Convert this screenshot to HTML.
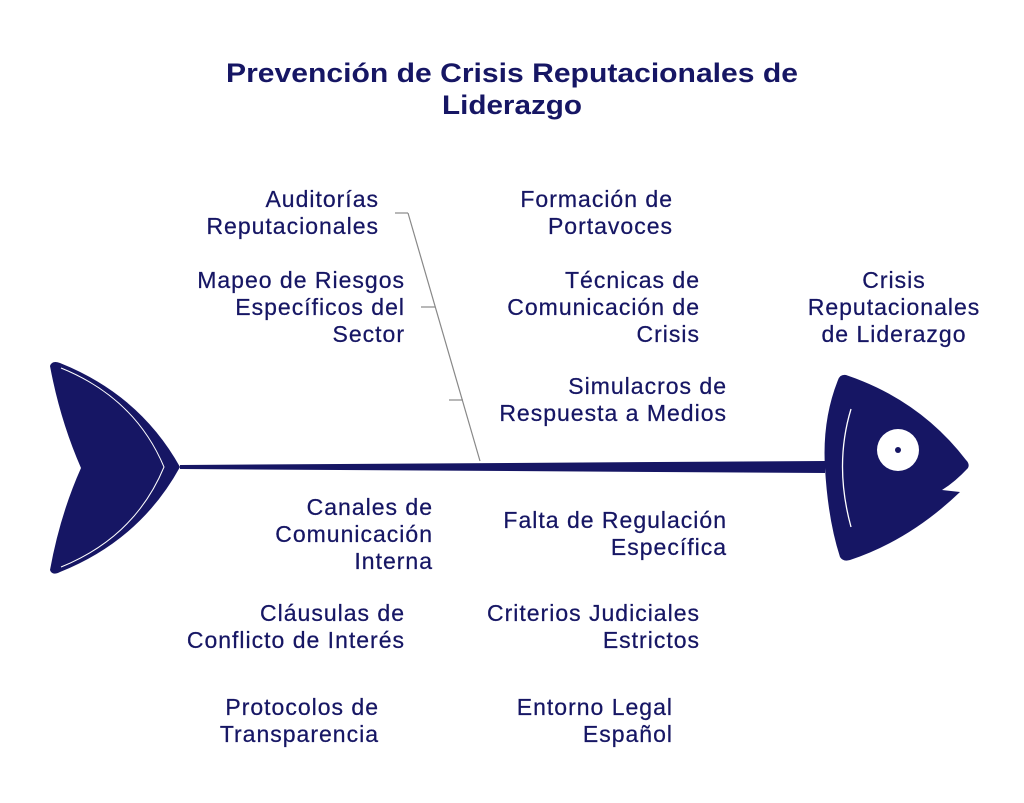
<!DOCTYPE html>
<html><head><meta charset="utf-8"><style>
html,body{margin:0;padding:0;background:#fff;}
svg{display:block;}
text{font-family:"Liberation Sans",sans-serif;fill:#161664;}
.l{font-size:23px;letter-spacing:1px;text-anchor:end;stroke:#161664;stroke-width:0.25;}
.c{font-size:23px;letter-spacing:1px;text-anchor:middle;stroke:#161664;stroke-width:0.25;}
.t{font-size:27px;font-weight:bold;text-anchor:middle;}
</style></head><body>
<svg width="1024" height="803" viewBox="0 0 1024 803" xmlns="http://www.w3.org/2000/svg">
<rect width="1024" height="803" fill="#fff"/>
<text class="t" x="512" y="82" textLength="572" lengthAdjust="spacingAndGlyphs">Prevención de Crisis Reputacionales de</text>
<text class="t" x="512" y="114" textLength="140" lengthAdjust="spacingAndGlyphs">Liderazgo</text>

<!-- tail -->
<path d="M50,366 Q52,360 60,363 Q140,395 180,467 Q140,540 60,572 Q52,576 50,570 Q60,515 81,468 Q60,420 50,366 Z" fill="#161664"/>
<path d="M61,368 Q135,398 164,467 Q135,537 61,567" fill="none" stroke="#fff" stroke-width="1"/>
<!-- spine -->
<polygon points="180,465 825,461 825,473 180,469" fill="#161664"/>
<!-- head -->
<path d="M846,375 Q840,374 838,380 Q822,420 825,468 Q828,520 840,557 Q843,562 850,560 Q910,540 960,492 L942,490 Q955,482 968,468 Q970,464 966,460 Q920,400 846,375 Z" fill="#161664"/>
<path d="M851,409 Q834,465 851,527" fill="none" stroke="#fff" stroke-width="1.3"/>
<circle cx="898" cy="450" r="21" fill="#fff"/>
<circle cx="898" cy="450" r="3" fill="#161664"/>
<!-- bone -->
<g stroke="#888" stroke-width="1.2" fill="none">
<line x1="408" y1="213" x2="480" y2="461"/>
<line x1="395" y1="213" x2="408" y2="213"/>
<line x1="421" y1="307" x2="435" y2="307"/>
<line x1="449" y1="400" x2="463" y2="400"/>
</g>

<text class="l" x="379" y="207">Auditorías</text>
<text class="l" x="379" y="234">Reputacionales</text>
<text class="l" x="405" y="288">Mapeo de Riesgos</text>
<text class="l" x="405" y="315">Específicos del</text>
<text class="l" x="405" y="342">Sector</text>
<text class="l" x="673" y="207">Formación de</text>
<text class="l" x="673" y="234">Portavoces</text>
<text class="l" x="700" y="288">Técnicas de</text>
<text class="l" x="700" y="315">Comunicación de</text>
<text class="l" x="700" y="342">Crisis</text>
<text class="l" x="727" y="394">Simulacros de</text>
<text class="l" x="727" y="421">Respuesta a Medios</text>
<text class="c" x="894" y="288">Crisis</text>
<text class="c" x="894" y="315">Reputacionales</text>
<text class="c" x="894" y="342">de Liderazgo</text>
<text class="l" x="433" y="515">Canales de</text>
<text class="l" x="433" y="542">Comunicación</text>
<text class="l" x="433" y="569">Interna</text>
<text class="l" x="727" y="528">Falta de Regulación</text>
<text class="l" x="727" y="555">Específica</text>
<text class="l" x="405" y="621">Cláusulas de</text>
<text class="l" x="405" y="648">Conflicto de Interés</text>
<text class="l" x="700" y="621">Criterios Judiciales</text>
<text class="l" x="700" y="648">Estrictos</text>
<text class="l" x="379" y="715">Protocolos de</text>
<text class="l" x="379" y="742">Transparencia</text>
<text class="l" x="673" y="715">Entorno Legal</text>
<text class="l" x="673" y="742">Español</text>
</svg>
</body></html>
